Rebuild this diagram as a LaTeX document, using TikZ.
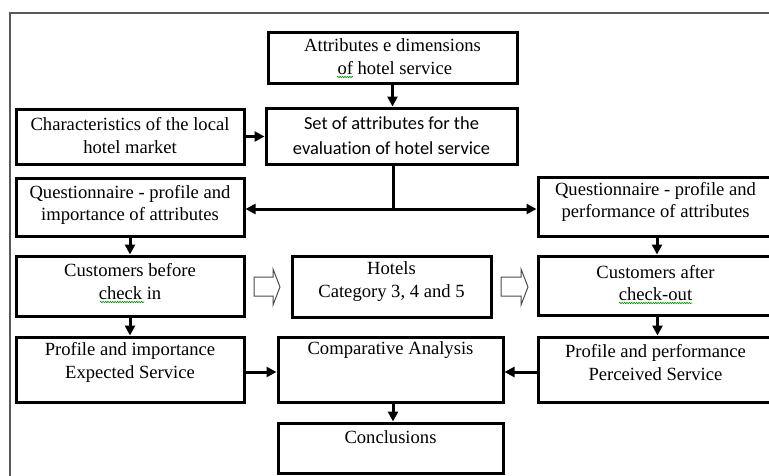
\documentclass[tikz,border=0pt]{standalone}
\usepackage{fontspec}
\setmainfont{Liberation Serif}
\newfontfamily\calib[Ligatures=NoCommon]{Carlito}
\usetikzlibrary{arrows.meta,decorations.pathmorphing}
\begin{document}
\begin{tikzpicture}[x=1pt,y=-1pt,
  box/.style={draw=black, line width=3pt, rectangle, inner sep=0pt, fill=white},
  txt/.style={align=center, inner sep=0pt, font=\fontsize{18.6}{22.5}\selectfont, text=black},
  conn/.style={draw=black, line width=3pt, -{Triangle[length=10pt,width=10pt]}},
  plain/.style={draw=black, line width=3pt},
  blockarrow/.style={draw=black!70, line width=1pt, fill=white, line join=miter},
  squig/.style={draw=green!55!black, line width=0.6pt, decorate, decoration={snake, amplitude=0.7pt, segment length=2.4pt}},
  frame/.style={draw=black!65, line width=1.6pt}]
\useasboundingbox (0,0) rectangle (769,475);
\clip (0,0) rectangle (769,475);
\fill[white] (0,0) rectangle (769,475);
\draw[frame] (10,13) rectangle (820,520);

% boxes
\node[box, minimum width=249, minimum height=51] (A) at (392.5,57.5) {};
\node[box, minimum width=251, minimum height=56] (S) at (391.5,136) {};
\node[box, minimum width=228, minimum height=55] (C) at (130,136.5) {};
\node[box, minimum width=228, minimum height=58] (Q1) at (130,207) {};
\node[box, minimum width=235, minimum height=59] (Q2) at (655.5,206.5) {};
\node[box, minimum width=228, minimum height=60] (CB) at (130,286) {};
\node[box, minimum width=199, minimum height=61] (H) at (391.5,286.5) {};
\node[box, minimum width=235, minimum height=59] (CA) at (655.5,285.5) {};
\node[box, minimum width=228, minimum height=65] (PI) at (130,369.5) {};
\node[box, minimum width=225, minimum height=65] (CO) at (390.5,369.5) {};
\node[box, minimum width=235, minimum height=65] (PP) at (655.5,369.5) {};
\node[box, minimum width=225, minimum height=50] (CL) at (390.5,448) {};

% texts
\node[txt] (tA) at (392.5,56.5) {Attributes e dimensions\\ \ of hotel service};
\node[txt, font=\calib\fontsize{18.4}{25}\selectfont] (tS) at (391.5,135.5) {Set of attributes for the\\evaluation of hotel service};
\node[txt] (tC) at (130,135.5) {Characteristics of the local\\hotel market};
\node[txt] (tQ1) at (130,205) {Questionnaire - profile and\\importance of attributes};
\node[txt] (tQ2) at (655.5,202) {Questionnaire - profile and\\performance of attributes};
\node[txt] (tCB) at (130,281.5) {Customers before\\check in};
\node[txt] (tH) at (391.5,281.5) {Hotels\\Category 3, 4 and 5};
\node[txt] (tCA) at (655.5,283) {Customers after\\check-out};
\node[txt] (tPI) at (130,362.5) {Profile and importance\\Expected Service};
\node[txt] (tCO) at (390.5,350) {Comparative Analysis};
\node[txt] (tPP) at (655.5,362.5) {Profile and performance\\Perceived Service};
\node[txt] (tCL) at (390.5,437) {Conclusions};

% spell-check squiggles
\draw[squig] (337,77) -- (353,77);
\draw[squig] (100,302) -- (144,302);
\draw[squig] (619,303) -- (692,303);

% connectors
\draw[conn] (A.south) -- (A.south |- S.north);
\draw[conn] (C.east) -- (C.east -| S.west);
\coordinate (split) at (393,209);
\draw[plain] (split |- S.south) -- (split);
\draw[conn] (split) -- (split -| Q1.east);
\draw[conn] (split) -- (split -| Q2.west);
\draw[conn] (Q1.south) -- (CB.north);
\draw[conn] (CB.south) -- (PI.north);
\draw[conn] ([xshift=1.5pt]Q2.south) -- ([xshift=1.5pt]CA.north);
\draw[conn] ([xshift=2pt]CA.south) -- ([xshift=2pt]PP.north);
\draw[conn] ([yshift=-2.5pt]PI.east) -- ([yshift=-2.5pt]PI.east -| CO.west);
\draw[conn] ([yshift=-2.5pt]PP.west) -- ([yshift=-2.5pt]PP.west -| CO.east);
\draw[conn] ([xshift=2.5pt]CO.south) -- ([xshift=2.5pt]CL.north);

% hollow block arrows
\draw[blockarrow] (254,277) -- (273,277) -- (273,269) -- (280,287) -- (273,305) -- (273,296) -- (254,296) -- cycle;
\draw[blockarrow] (501,277) -- (521,277) -- (521,269) -- (528,287) -- (521,305) -- (521,296) -- (501,296) -- cycle;
\end{tikzpicture}
\end{document}
